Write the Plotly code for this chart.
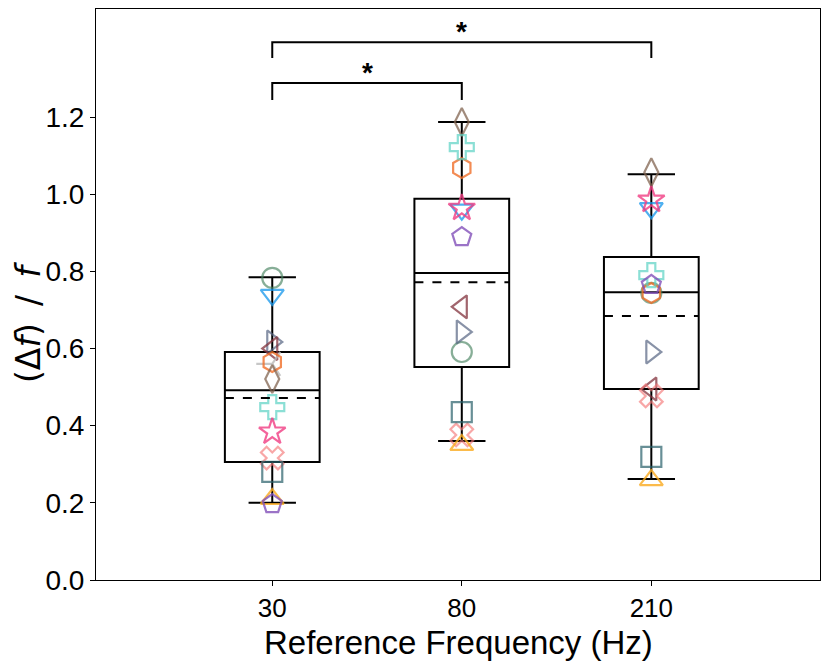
import plotly.graph_objects as go

categories = ["30", "80", "210"]

# box statistics per category
q1 = [0.306, 0.552, 0.495]
median = [0.492, 0.796, 0.746]
q3 = [0.591, 0.988, 0.837]
lower = [0.200, 0.360, 0.262]
upper = [0.785, 1.187, 1.052]
mean = [0.472, 0.772, 0.684]

# individual participants (values at 30, 80, 210 Hz)
participants = [
    ("circle-open", "rgba(70,130,95,0.65)", [0.783, 0.591, 0.744]),
    ("triangle-down-open", "rgba(20,150,235,0.75)", [0.739, 0.960, 0.964]),
    ("triangle-right-open", "rgba(85,100,130,0.7)", [0.617, 0.643, 0.591]),
    ("triangle-left-open", "rgba(130,50,60,0.75)", [0.600, 0.708, 0.495]),
    ("y-left-open", "rgba(185,185,185,0.8)", [0.560, None, None]),
    ("hexagon-open", "rgba(240,110,40,0.8)", [0.565, 1.068, 0.744]),
    ("diamond-tall-open", "rgba(130,100,80,0.75)", [0.521, 1.187, 1.057]),
    ("cross-open", "rgba(90,210,195,0.7)", [0.448, 1.122, 0.790]),
    ("star-open", "rgba(240,60,130,0.8)", [0.384, 0.964, 0.985]),
    ("x-open", "rgba(245,120,120,0.65)", [0.316, 0.376, 0.477]),
    ("square-open", "rgba(40,95,105,0.7)", [0.280, 0.435, 0.319]),
    ("triangle-up-open", "rgba(250,170,30,0.8)", [0.210, 0.350, 0.259]),
    ("pentagon-open", "rgba(130,80,185,0.8)", [0.197, 0.889, 0.765]),
]

# significance brackets: (from category, to category, bar height, foot height)
brackets = [("30", "80", 1.288, 1.244), ("30", "210", 1.394, 1.353)]

BOX_W = 0.5

fig = go.Figure()

for sym, col, vals in participants:
    fig.add_trace(go.Scatter(
        x=categories, y=vals, mode="markers",
        marker=dict(symbol=sym, size=20, color=col,
                    line=dict(color=col, width=2.2)),
        showlegend=False, hoverinfo="skip",
    ))

fig.add_trace(go.Box(
    x=categories, q1=q1, median=median, q3=q3,
    lowerfence=lower, upperfence=upper,
    boxmean=False, width=BOX_W, whiskerwidth=0.5,
    line=dict(color="black", width=2), fillcolor="rgba(0,0,0,0)",
    showlegend=False, hoverinfo="skip",
))

# dashed mean lines
for i, m in enumerate(mean):
    fig.add_shape(type="line", xref="x", yref="y",
                  x0=i - BOX_W / 2, x1=i + BOX_W / 2, y0=m, y1=m,
                  line=dict(color="black", width=2, dash="dash"))

for a, b, top, foot in brackets:
    fig.add_trace(go.Scatter(
        x=[a, a, b, b], y=[foot, top, top, foot], mode="lines",
        line=dict(color="black", width=2), showlegend=False, hoverinfo="skip",
    ))
    ia, ib = categories.index(a), categories.index(b)
    fig.add_annotation(x=(ia + ib) / 2, y=top, text="<b>*</b>", showarrow=False,
                       yshift=11, font=dict(size=28, color="black"))

# axis titles placed as annotations to control their position
fig.add_annotation(xref="paper", yref="paper", x=0.5, y=0, yshift=-62,
                   xanchor="center", yanchor="middle", showarrow=False,
                   text="Reference Frequency (Hz)", font=dict(size=33, color="black"))

sp = "\u00a0\u2009"
fig.add_annotation(xref="paper", yref="paper", x=0, y=0.45, xshift=-68,
                   xanchor="center", yanchor="middle", showarrow=False, textangle=-90,
                   text=f"(Δ<i>f</i>){sp}/{sp}<i>f</i>",
                   font=dict(size=33, family="DejaVu Sans", color="black"))

fig.update_layout(
    width=823, height=660,
    margin=dict(l=88, r=11, t=1, b=88),
    plot_bgcolor="white", paper_bgcolor="white",
    font=dict(family="Liberation Sans, Arial, sans-serif", color="black"),
    xaxis=dict(
        type="category", range=[-0.93, 2.89], automargin=False,
        showline=True, linecolor="black", linewidth=1, mirror=True,
        ticks="outside", ticklen=5, tickcolor="black",
        tickfont=dict(size=26), showgrid=False, zeroline=False,
    ),
    yaxis=dict(
        range=[0, 1.48], tickvals=[0, 0.2, 0.4, 0.6, 0.8, 1.0, 1.2],
        tickformat=".1f", automargin=False,
        showline=True, linecolor="black", linewidth=1, mirror=True,
        ticks="outside", ticklen=5, tickcolor="black",
        tickfont=dict(size=28), showgrid=False, zeroline=False,
    ),
)

fig.write_html("out.html")
